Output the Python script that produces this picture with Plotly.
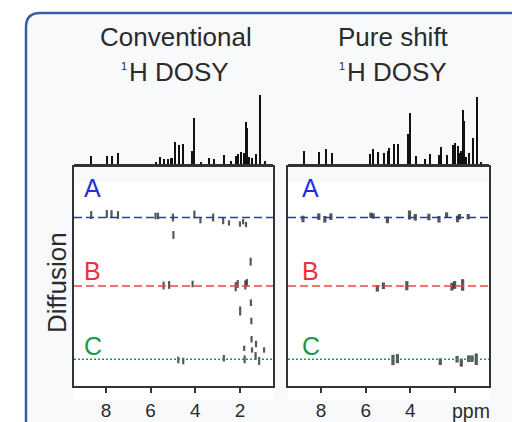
import plotly.graph_objects as go

# ---- 1D projections: chemical shift (ppm) and relative peak height ----
conv_ppm = [8.66, 7.97, 7.72, 7.45, 5.79, 5.61, 5.43, 5.25, 5.10, 5.03, 4.92, 4.74,
            4.55, 4.15, 4.05, 3.76, 3.39, 3.18, 2.72, 2.42, 2.18, 2.09, 1.97, 1.85,
            1.76, 1.69, 1.60, 1.48, 1.28, 1.13, 0.91]
conv_int = [8.3, 8.0, 8.3, 11.0, 2.3, 7.0, 5.0, 5.3, 5.7, 6.0, 21.7, 19.0,
            20.0, 13.3, 45.7, 2.3, 6.3, 5.0, 9.0, 3.0, 8.3, 10.3, 11.7, 10.7,
            41.7, 36.3, 7.3, 5.7, 10.3, 69.0, 3.0]

ps_ppm = [8.79, 8.08, 7.79, 7.52, 5.82, 5.68, 5.44, 5.19, 5.03, 4.95, 4.76, 4.55,
          4.13, 4.01, 3.74, 3.35, 3.14, 2.74, 2.65, 2.35, 2.11, 2.02, 1.89, 1.80,
          1.74, 1.66, 1.60, 1.50, 1.39, 1.20, 1.02, 0.87]
ps_int = [13.3, 11.7, 14.7, 11.0, 10.0, 14.7, 12.0, 10.7, 13.0, 16.3, 20.0, 20.3,
          29.7, 51.0, 7.7, 5.0, 10.0, 9.0, 16.7, 9.0, 19.0, 21.0, 17.7, 10.7,
          13.0, 54.0, 43.0, 7.3, 10.7, 26.3, 66.7, 2.3]

# ---- diffusion levels of the three components (arbitrary units, top = fastest) ----
components = ["A", "B", "C"]
comp_D = [1.0, 2.0, 3.07]

# ---- 2D DOSY cross peaks: ppm, diffusion coordinate, relative intensity ----
conv2d_ppm = [8.66, 7.96, 7.75, 7.46, 5.78, 5.67, 5.00, 4.98, 4.04, 3.77, 3.20, 2.75,
              2.49, 2.00, 1.86, 1.73, 1.52,
              5.42, 5.17, 4.12, 2.19, 2.10, 1.76, 1.69,
              1.51, 1.99, 1.49, 1.48, 1.81, 1.28, 1.46, 0.92,
              4.76, 4.54, 2.72, 1.79, 1.30, 1.14]
conv2d_D = [0.964, 0.949, 0.949, 0.964, 0.978, 0.978, 1.0, 1.255, 0.956, 1.047, 1.0, 1.051,
            1.080, 1.095, 1.061, 1.102, 1.645,
            1.993, 1.985, 1.971, 2.010, 1.971, 1.985, 1.956,
            2.244, 2.365, 2.511, 2.778, 2.909, 2.847, 2.934, 2.934,
            3.080, 3.095, 3.055, 3.070, 3.022, 3.095]
conv2d_int = [2, 2, 2, 2, 1.5, 1.5, 2, 2, 2, 1, 2, 1.5,
              1, 1, 1, 1, 2,
              2, 2, 1.5, 2.5, 2, 2.5, 2,
              1.5, 2.5, 1.5, 1.5, 1, 1.5, 1, 1,
              1.5, 1.5, 1.5, 2, 2, 2]

ps2d_ppm = [8.81, 8.10, 7.83, 7.56, 5.77, 5.67, 5.03, 4.04, 3.78, 3.17, 2.72, 2.38,
            1.89, 1.80, 1.41,
            5.48, 5.21, 4.16, 2.14, 2.02, 1.66,
            4.78, 4.58, 2.66, 1.91, 1.72, 1.39, 1.24, 1.05]
ps2d_D = [1.022, 0.988, 1.026, 0.988, 0.968, 0.978, 1.036, 0.964, 0.997, 0.993, 1.026, 0.964,
          1.022, 0.988, 0.988,
          2.034, 1.996, 1.996, 2.010, 1.985, 1.985,
          3.080, 3.061, 3.105, 3.070, 3.120, 3.061, 3.061, 3.070]
ps2d_int = [1.5, 1.5, 1.5, 1.5, 1, 1, 1.5, 2.5, 1.5, 1.5, 1.5, 1,
            1.5, 1, 1,
            1.5, 1.5, 2.5, 2, 2, 3.5,
            3, 2.5, 1.5, 1.5, 2, 1.5, 1.5, 3.5]

tick_vals = [8, 6, 4, 2]

W, H = 512, 422
FONT = "Liberation Sans, Arial, sans-serif"
INK = "#2b2b2b"
CARD = "#f8f9fb"
MARK = "#111111"
comp_text_color = ["#1f2fe0", "#e8323c", "#17994a"]
comp_line_color = ["#2a35c8", "#ee4646", "#1f9250"]
comp_dash = ["8px,4px", "8px,4px", "2px,2px"]


def px_x(v):
    return v / W


def px_y(v):
    return 1 - v / H


left_dom = [px_x(74), px_x(273)]
right_dom = [px_x(288), px_x(489)]
dosy_dom = [px_y(386), px_y(167)]
spec_dom = [px_y(164), px_y(92)]

fig = go.Figure()

# stick spectra on top
for ppm, inten, xa, ya in [(conv_ppm, conv_int, "x3", "y3"), (ps_ppm, ps_int, "x4", "y4")]:
    fig.add_trace(go.Bar(x=ppm, y=inten, width=0.065, marker=dict(color=MARK, line_width=0),
                         xaxis=xa, yaxis=ya, showlegend=False, hoverinfo="skip"))

# DOSY cross peaks
for ppm, D, inten, xa, ya, lw in [(conv2d_ppm, conv2d_D, conv2d_int, "x", "y", 2.2),
                                   (ps2d_ppm, ps2d_D, ps2d_int, "x2", "y2", 3.2)]:
    fig.add_trace(go.Scatter(
        x=ppm, y=D, mode="markers", xaxis=xa, yaxis=ya, showlegend=False, hoverinfo="skip",
        marker=dict(symbol="line-ns", size=[2 + 1.8 * i for i in inten],
                    line=dict(color=MARK, width=lw))))

# card background with rounded top-left corner
rx, ry = 14 / W, 14 / H
x0, yt = px_x(26), px_y(13)
card_path = (f"M {x0},-0.1 L {x0},{yt - ry} Q {x0},{yt} {x0 + rx},{yt} "
             f"L 1.2,{yt} L 1.2,-0.1 Z")
shapes = [dict(type="path", path=card_path, xref="paper", yref="paper",
               fillcolor=CARD, line=dict(color="#3a5da6", width=2.5), layer="below")]
# white panels behind the DOSY boxes
for dom in (left_dom, right_dom):
    shapes.append(dict(type="rect", xref="paper", yref="paper", x0=dom[0], x1=dom[1],
                       y0=px_y(400), y1=px_y(183), fillcolor="white", line_width=0,
                       layer="below"))
# component reference lines
for xr, yr in [("x domain", "y"), ("x2 domain", "y2")]:
    for D, col, dash in zip(comp_D, comp_line_color, comp_dash):
        shapes.append(dict(type="line", xref=xr, yref=yr, x0=0, x1=1, y0=D, y1=D,
                           line=dict(color=col, width=1.5, dash=dash)))


def paper_text(x, y, txt, size, **kw):
    return dict(x=px_x(x), y=px_y(y), xref="paper", yref="paper", text=txt,
                showarrow=False, xanchor=kw.pop("xanchor", "center"), yanchor="middle",
                font=dict(family=FONT, size=size, color=INK), **kw)


annotations = [
    paper_text(176, 37, "Conventional", 26),
    paper_text(178.5, 72, "H DOSY", 26),
    paper_text(123.5, 66, "1", 11),
    paper_text(393, 37, "Pure shift", 26),
    paper_text(397, 72, "H DOSY", 26),
    paper_text(341.5, 66, "1", 11),
    paper_text(57, 283, "Diffusion", 26, textangle=-90),
    paper_text(471, 411, "ppm", 19.5),
]
label_D = [0.569, 1.781, 2.876]
for xa, ya, xpos in [("x", "y", 9.07), ("x2", "y2", 8.94)]:
    for name, D, col in zip(components, label_D, comp_text_color):
        annotations.append(dict(x=xpos, y=D, xref=xa, yref=ya, text=name, showarrow=False,
                                xanchor="left", yanchor="middle",
                                font=dict(family=FONT, size=25, color=col)))

box_axis = dict(showline=True, linecolor="#333333", linewidth=1.5, mirror=True,
                showgrid=False, zeroline=False, automargin=False)
tick_style = dict(ticks="outside", ticklen=5, tickwidth=1.5, tickcolor="#333333",
                  tickfont=dict(size=19, color=INK), ticklabelstandoff=1)
spec_x = dict(showline=True, linecolor="#333333", linewidth=1.5, showticklabels=False,
              ticks="", showgrid=False, zeroline=False, automargin=False)
fig.update_layout(
    width=W, height=H, margin=dict(l=0, r=0, t=0, b=0, autoexpand=False),
    paper_bgcolor="white", plot_bgcolor="rgba(0,0,0,0)",
    font=dict(family=FONT, color=INK), bargap=0,
    shapes=shapes, annotations=annotations,
    xaxis=dict(domain=left_dom, range=[9.43, 0.52], anchor="y", tickvals=tick_vals,
               ticktext=[str(t) for t in tick_vals], **tick_style, **box_axis),
    yaxis=dict(domain=dosy_dom, range=[3.46, 0.263], anchor="x", showticklabels=False,
               ticks="", **box_axis),
    xaxis2=dict(domain=right_dom, range=[9.48, 0.48], anchor="y2", tickvals=tick_vals,
                ticktext=[str(t) for t in tick_vals[:-1]] + [""], **tick_style, **box_axis),
    yaxis2=dict(domain=dosy_dom, range=[3.46, 0.263], anchor="x2", showticklabels=False,
                ticks="", **box_axis),
    xaxis3=dict(domain=left_dom, range=[9.43, 0.52], anchor="y3", **spec_x),
    yaxis3=dict(domain=spec_dom, range=[0, 72], anchor="x3", visible=False, automargin=False),
    xaxis4=dict(domain=right_dom, range=[9.48, 0.48], anchor="y4", **spec_x),
    yaxis4=dict(domain=spec_dom, range=[0, 72], anchor="x4", visible=False, automargin=False),
)

fig.write_html("out.html")
